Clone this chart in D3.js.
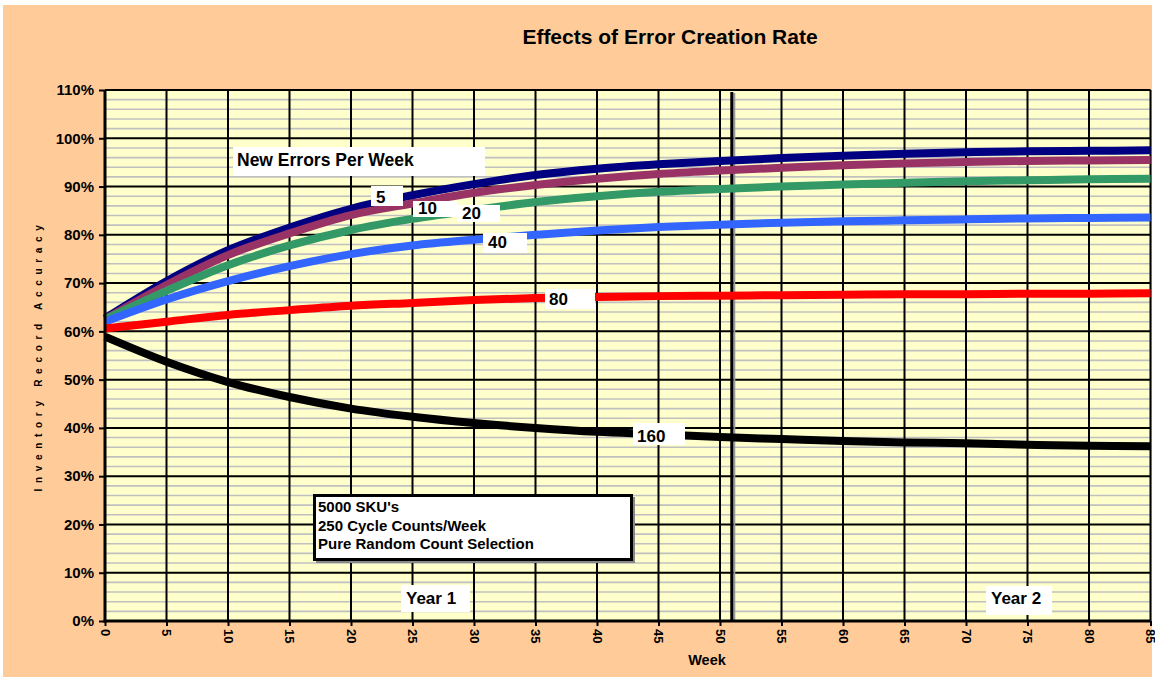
<!DOCTYPE html>
<html>
<head>
<meta charset="utf-8">
<script src="https://cdnjs.cloudflare.com/ajax/libs/d3/7.8.5/d3.min.js"></script>
<style>
  body { margin: 0; background: #fff; }
  text { font-family: Arial, "Liberation Sans", sans-serif; font-weight: bold; }
</style>
</head>
<body>
<div id="chart"></div>
<script>
// weeks sampled every 5
var weeks = [0, 5, 10, 15, 20, 25, 30, 35, 40, 45, 50, 55, 60, 65, 70, 75, 80, 85];

// inventory record accuracy (%) per new-errors-per-week rate
var err5   = [62.7, 70.4, 76.8, 81.5, 85.4, 88.2, 90.5, 92.4, 93.7, 94.6, 95.3, 95.9, 96.4, 96.8, 97.1, 97.3, 97.4, 97.5];
var err10  = [62.5, 69.6, 75.8, 80.3, 84.1, 86.5, 88.7, 90.3, 91.6, 92.6, 93.3, 93.9, 94.4, 94.8, 95.1, 95.3, 95.4, 95.5];
var err20  = [62.5, 68.4, 73.7, 77.8, 81.0, 83.3, 85.1, 86.8, 88.0, 88.9, 89.5, 90.0, 90.4, 90.8, 91.1, 91.3, 91.5, 91.6];
var err40  = [62.0, 66.6, 70.4, 73.5, 76.0, 77.8, 79.0, 80.0, 80.9, 81.6, 82.1, 82.5, 82.8, 83.0, 83.2, 83.4, 83.5, 83.6];
var err80  = [60.6, 62.0, 63.4, 64.4, 65.3, 65.9, 66.5, 66.9, 67.1, 67.3, 67.4, 67.5, 67.6, 67.7, 67.7, 67.8, 67.8, 67.9];
var err160 = [58.9, 53.7, 49.5, 46.4, 44.0, 42.3, 41.0, 40.0, 39.2, 38.7, 38.1, 37.7, 37.3, 37.0, 36.8, 36.5, 36.3, 36.2];

var seriesNames = ["5", "10", "20", "40", "80", "160"];
var seriesValues = [err5, err10, err20, err40, err80, err160];
var seriesColors = ["#000080", "#993366", "#339966", "#3366FF", "#FF0000", "#000000"];

var xTicks = [0, 5, 10, 15, 20, 25, 30, 35, 40, 45, 50, 55, 60, 65, 70, 75, 80, 85];
var yTicks = [0, 10, 20, 30, 40, 50, 60, 70, 80, 90, 100, 110];
var yearBoundary = 51;

var width = 1155;
var height = 679;

var svg = d3.select("#chart")
    .append("svg")
    .attr("width", width)
    .attr("height", height);

// outer orange frame
svg.append("rect")
    .attr("x", 3).attr("y", 5)
    .attr("width", 1149).attr("height", 672)
    .attr("fill", "#FFCC99");

var xScale = d3.scaleLinear().domain([0, 85]).range([105, 1150.5]);
var yScale = d3.scaleLinear().domain([0, 110]).range([621, 90]);

// plot area
svg.append("rect")
    .attr("x", xScale(0)).attr("y", yScale(110))
    .attr("width", xScale(85) - xScale(0))
    .attr("height", yScale(0) - yScale(110))
    .attr("fill", "#FFFFCC");

// minor gridlines every 2%
var minor = d3.range(2, 110, 2).filter(function(d) { return d % 10 !== 0; });
svg.append("g").selectAll("line")
    .data(minor).enter()
    .append("line")
    .attr("x1", xScale(0)).attr("x2", xScale(85))
    .attr("y1", function(d) { return yScale(d); })
    .attr("y2", function(d) { return yScale(d); })
    .attr("stroke", "#C0C0C0")
    .attr("stroke-width", 1.6);

// major horizontal gridlines
svg.append("g").selectAll("line")
    .data(yTicks.slice(1)).enter()
    .append("line")
    .attr("x1", xScale(0)).attr("x2", xScale(85))
    .attr("y1", function(d) { return yScale(d); })
    .attr("y2", function(d) { return yScale(d); })
    .attr("stroke", "#000")
    .attr("stroke-width", 2);

// vertical gridlines
svg.append("g").selectAll("line")
    .data(xTicks.slice(1)).enter()
    .append("line")
    .attr("x1", function(d) { return xScale(d); })
    .attr("x2", function(d) { return xScale(d); })
    .attr("y1", yScale(110)).attr("y2", yScale(0))
    .attr("stroke", "#000")
    .attr("stroke-width", 2);

// year boundary line with a little shadow
svg.append("line")
    .attr("x1", xScale(yearBoundary) + 2).attr("x2", xScale(yearBoundary) + 2)
    .attr("y1", yScale(110) + 3).attr("y2", yScale(0))
    .attr("stroke", "#999")
    .attr("stroke-width", 2);
svg.append("line")
    .attr("x1", xScale(yearBoundary) - 0.5).attr("x2", xScale(yearBoundary) - 0.5)
    .attr("y1", yScale(110) + 2).attr("y2", yScale(0))
    .attr("stroke", "#000")
    .attr("stroke-width", 3);

// series lines
var line = d3.line()
    .x(function(d, i) { return xScale(weeks[i]); })
    .y(function(d) { return yScale(d); })
    .curve(d3.curveCatmullRom.alpha(0.5));

seriesValues.forEach(function(vals, i) {
  svg.append("path")
      .datum(vals)
      .attr("d", line)
      .attr("fill", "none")
      .attr("stroke", seriesColors[i])
      .attr("stroke-width", 8)
      .attr("stroke-linejoin", "round");
});

// axes
var yAxis = d3.axisLeft(yScale)
    .tickValues(yTicks)
    .tickSize(6)
    .tickPadding(5)
    .tickFormat(function(d) { return d + "%"; });

var gy = svg.append("g")
    .attr("transform", "translate(" + xScale(0) + ",0)")
    .call(yAxis);
gy.select(".domain").remove();
gy.selectAll(".tick line").attr("stroke", "#000").attr("stroke-width", 2);
gy.selectAll(".tick text")
    .attr("font-size", 15)
    .attr("font-family", "Arial, 'Liberation Sans', sans-serif")
    .attr("font-weight", "bold")
    .attr("fill", "#000");

var xAxis = d3.axisBottom(xScale)
    .tickValues(xTicks)
    .tickSize(5)
    .tickFormat(d3.format("d"));

var gx = svg.append("g")
    .attr("transform", "translate(0," + yScale(0) + ")")
    .call(xAxis);
gx.select(".domain").remove();
gx.selectAll(".tick line").attr("stroke", "#000").attr("stroke-width", 2);
gx.selectAll(".tick text")
    .attr("font-size", 13)
    .attr("font-family", "Arial, 'Liberation Sans', sans-serif")
    .attr("font-weight", "bold")
    .attr("fill", "#000")
    .attr("transform", "rotate(90)")
    .attr("x", 8).attr("y", 0)
    .attr("dy", "0.35em")
    .attr("text-anchor", "start");

// axis lines
svg.append("line")
    .attr("x1", xScale(0)).attr("x2", xScale(0))
    .attr("y1", yScale(110)).attr("y2", yScale(0) + 1.5)
    .attr("stroke", "#000").attr("stroke-width", 3);
svg.append("line")
    .attr("x1", xScale(0) - 1.5).attr("x2", xScale(85))
    .attr("y1", yScale(0)).attr("y2", yScale(0))
    .attr("stroke", "#000").attr("stroke-width", 3);

// title and axis titles
svg.append("text")
    .attr("x", 670).attr("y", 44)
    .attr("text-anchor", "middle")
    .attr("font-size", 21)
    .text("Effects of Error Creation Rate");

svg.append("text")
    .attr("x", 707).attr("y", 665)
    .attr("text-anchor", "middle")
    .attr("font-size", 14.5)
    .text("Week");

svg.append("text")
    .attr("transform", "translate(42," + ((yScale(0) + yScale(110)) / 2) + ")rotate(-90)")
    .attr("text-anchor", "middle")
    .attr("font-size", 10)
    .attr("letter-spacing", 5.7)
    .text("Inventory Record Accuracy");

// white label boxes
function boxLabel(x, y, w, h, txt, tx, ty, size) {
  svg.append("rect")
      .attr("x", x).attr("y", y)
      .attr("width", w).attr("height", h)
      .attr("fill", "#fff");
  svg.append("text")
      .attr("x", tx).attr("y", ty)
      .attr("font-size", size)
      .text(txt);
}

boxLabel(233, 147, 252, 29, "New Errors Per Week", 237, 166, 17.5);
boxLabel(371, 186, 32, 20, seriesNames[0], 376, 203, 17);
boxLabel(413, 201, 44, 16, seriesNames[1], 418, 213.5, 17);
boxLabel(457, 205, 43, 17, seriesNames[2], 462, 218.5, 17);
boxLabel(483, 233, 44, 20, seriesNames[3], 488, 247.5, 17);
boxLabel(545, 289, 50, 20, seriesNames[4], 549, 305, 17);
boxLabel(633, 423, 52, 22, seriesNames[5], 637, 441.5, 17);
boxLabel(401, 585, 69, 27, "Year 1", 406, 604, 17);
boxLabel(986, 586, 66, 29, "Year 2", 991, 604, 17);

// annotation box
svg.append("rect")
    .attr("x", 316).attr("y", 497)
    .attr("width", 319).attr("height", 66)
    .attr("fill", "#888");
svg.append("rect")
    .attr("x", 314.5).attr("y", 495.5)
    .attr("width", 317).attr("height", 64)
    .attr("fill", "#fff")
    .attr("stroke", "#000")
    .attr("stroke-width", 3);
var notes = ["5000 SKU's", "250 Cycle Counts/Week", "Pure Random Count Selection"];
svg.append("g").selectAll("text")
    .data(notes).enter()
    .append("text")
    .attr("x", 318)
    .attr("y", function(d, i) { return 512 + i * 18.7; })
    .attr("font-size", 15)
    .text(function(d) { return d; });
</script>
</body>
</html>
